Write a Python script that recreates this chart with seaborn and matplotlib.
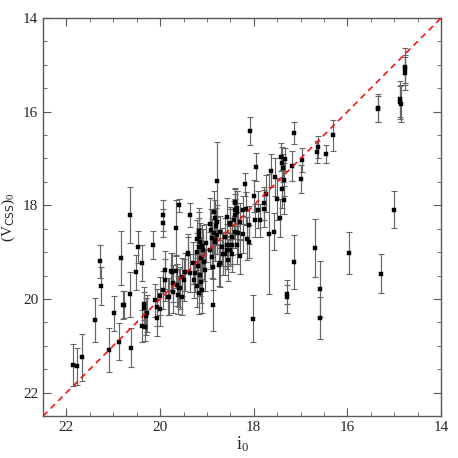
import pandas as pd
import matplotlib
matplotlib.use("Agg")
import matplotlib.pyplot as plt
from matplotlib.ticker import MultipleLocator
import seaborn as sns

# --- data ---
i0 = [21.85, 21.77, 21.67, 21.39, 21.28, 21.27, 21.10, 20.99, 20.88, 20.83,
      20.80, 20.78, 20.64, 20.63, 20.64, 20.51, 20.48, 20.39, 20.16, 19.93,
      19.93, 19.67, 19.60, 19.36, 18.79, 18.08, 17.14, 16.66, 16.62, 16.45,
      16.30, 15.34, 15.34, 14.88, 14.88, 14.85, 14.77, 14.77, 14.77, 15.00,
      15.97, 15.29, 16.69, 16.58, 16.58, 17.14, 17.28, 17.28, 18.02, 17.67,
      17.56, 16.99, 16.98, 17.18, 17.35, 17.36, 17.41, 17.39, 17.37, 17.34,
      17.40, 17.64, 17.54, 17.51, 17.45, 17.78, 17.74, 17.96, 18.00, 18.19,
      18.22, 18.16, 17.91, 18.40, 17.97, 17.79, 17.86, 18.11, 18.41, 18.50,
      18.43, 18.36, 18.47, 18.40, 18.22, 18.15, 18.10, 18.29, 18.35, 18.47,
      18.50, 18.41, 18.40, 18.36, 18.29, 18.33, 18.50, 18.61, 18.58, 18.50,
      18.58, 18.84, 18.82, 18.79, 18.80, 18.84, 18.90, 18.82, 19.17, 19.15,
      19.10, 19.22, 18.72, 18.79, 18.82, 18.68, 18.65, 18.58, 18.54, 18.72,
      18.90, 18.93, 19.02, 19.09, 19.04, 19.07, 19.13, 19.13, 19.11, 19.18,
      19.22, 19.16, 19.18, 19.22, 19.29, 19.25, 19.47, 19.40, 19.54, 19.54,
      19.50, 19.60, 19.61, 19.64, 19.72, 19.73, 19.75, 19.80, 19.89, 19.93,
      20.00, 20.11, 20.06, 20.00, 20.07, 20.34, 20.34, 20.28, 20.31, 20.39,
      20.32, 19.89, 19.76, 19.66, 19.84, 19.57, 19.40, 19.27, 18.86, 19.36,
      19.20, 18.92, 19.18, 18.93, 19.15, 18.86, 18.75, 18.47, 18.61]
vcss0 = [21.41, 21.44, 21.25, 20.45, 19.20, 19.72, 21.09, 20.31, 20.91, 19.13,
         20.13, 20.12, 19.90, 21.04, 18.21, 19.43, 18.89, 19.23, 18.84, 18.21,
         18.37, 18.49, 18.00, 18.21, 17.48, 16.41, 16.46, 16.86, 16.76, 16.91,
         16.50, 15.92, 15.95, 15.73, 15.80, 15.83, 15.04, 15.09, 15.18, 18.09,
         19.02, 19.46, 18.92, 19.78, 20.40, 19.21, 19.95, 19.90, 20.42, 18.62,
         18.56, 17.43, 17.03, 17.16, 17.45, 17.89, 16.96, 17.10, 17.20, 17.02,
         17.65, 17.26, 17.40, 17.87, 18.27, 17.96, 17.75, 17.19, 17.80, 17.55,
         18.10, 18.07, 18.09, 17.93, 18.32, 18.07, 18.32, 18.42, 18.10, 18.37,
         18.31, 18.14, 18.67, 18.57, 18.62, 18.71, 18.78, 19.09, 18.85, 18.85,
         18.95, 17.96, 18.21, 18.05, 18.35, 18.60, 18.85, 18.67, 18.85, 18.39,
         18.25, 18.14, 18.28, 18.35, 18.45, 18.60, 18.70, 18.78, 18.60, 18.78,
         18.88, 18.72, 18.57, 18.64, 18.74, 18.89, 19.03, 18.96, 19.17, 19.24,
         19.10, 18.96, 18.81, 18.96, 19.38, 19.21, 19.13, 19.63, 19.81, 19.88,
         19.73, 18.89, 18.67, 18.99, 19.24, 19.45, 19.42, 19.03, 19.95, 19.53,
         19.60, 19.77, 19.92, 19.70, 19.67, 19.85, 19.42, 19.95, 19.60, 19.81,
         19.94, 20.03, 20.18, 20.22, 20.40, 20.10, 20.20, 20.31, 20.37, 20.58,
         20.60, 19.38, 19.41, 19.41, 19.95, 19.77, 19.02, 19.59, 20.13, 19.45,
         19.30, 18.52, 18.55, 18.40, 19.49, 19.31, 19.28, 19.03, 19.03]
vcss0_err = [0.45, 0.40, 0.50, 0.47, 0.35, 0.40, 0.48, 0.37, 0.40, 0.58,
             0.30, 0.28, 0.48, 0.42, 0.60, 0.37, 0.34, 0.39, 0.30, 0.33,
             0.30, 0.60, 0.14, 0.25, 0.83, 0.30, 0.23, 0.23, 0.24, 0.19,
             0.33, 0.30, 0.28, 0.38, 0.35, 0.40, 0.40, 0.30, 0.35, 0.39,
             0.45, 0.42, 0.62, 0.60, 0.45, 0.57, 0.35, 0.20, 0.50, 1.28,
             0.40, 0.30, 0.25, 0.32, 0.35, 0.30, 0.30, 0.35, 0.30, 0.25,
             0.40, 0.35, 0.40, 0.45, 0.40, 0.35, 0.40, 0.30, 0.35, 0.25,
             0.30, 0.35, 0.40, 0.30, 0.35, 0.40, 0.35, 0.40, 0.35, 0.30,
             0.40, 0.45, 0.40, 0.35, 0.40, 0.45, 0.35, 0.37, 0.40, 0.40,
             0.35, 0.30, 0.35, 0.35, 0.40, 0.45, 0.40, 0.40, 0.45, 0.35,
             0.40, 0.45, 0.40, 0.35, 0.40, 0.45, 0.40, 0.40, 0.45, 0.40,
             0.45, 0.40, 0.35, 0.40, 0.45, 0.40, 0.45, 0.40, 0.45, 0.50,
             0.45, 0.40, 0.40, 0.45, 0.45, 0.40, 0.45, 0.45, 0.50, 0.45,
             0.45, 0.40, 0.40, 0.40, 0.45, 0.40, 0.40, 0.35, 0.40, 0.40,
             0.45, 0.40, 0.40, 0.45, 0.40, 0.45, 0.40, 0.40, 0.45, 0.40,
             0.40, 0.35, 0.40, 0.35, 0.40, 0.35, 0.35, 0.40, 0.40, 0.35,
             0.30, 0.40, 0.40, 0.35, 0.40, 0.45, 0.40, 0.40, 0.55, 0.40,
             0.45, 0.45, 0.50, 0.55, 0.45, 0.50, 0.45, 0.40, 0.45]

df = pd.DataFrame({"i0": i0, "vcss0": vcss0, "err": vcss0_err})

# --- plot ---
sns.set_style("ticks")
plt.rcParams["font.family"] = ["Liberation Serif", "DejaVu Serif"]
plt.rcParams["mathtext.fontset"] = "custom"
plt.rcParams["mathtext.rm"] = "Liberation Serif"
plt.rcParams["mathtext.it"] = "Liberation Serif:italic"
plt.rcParams["mathtext.sf"] = "DejaVu Sans"

fig = plt.figure(figsize=(4.58, 4.58), dpi=100)
ax = fig.add_axes([0.094, 0.0917, 0.869, 0.869])

ax.errorbar(df["i0"], df["vcss0"], yerr=df["err"], fmt="none",
            ecolor="0.4", elinewidth=0.85, capsize=2.2, capthick=0.8, zorder=2)
sns.scatterplot(data=df, x="i0", y="vcss0", ax=ax, marker="s", s=10,
                color="black", edgecolor="black", linewidth=0.3, zorder=3)

# one-to-one line
lims = [22.5, 14]
ax.plot(lims, lims, color="red", linestyle=(0, (4, 3)), linewidth=1.1, zorder=4)

ax.set_xlim(22.5, 14)
ax.set_ylim(22.5, 14)
ax.xaxis.set_major_locator(MultipleLocator(2))
ax.xaxis.set_minor_locator(MultipleLocator(0.5))
ax.yaxis.set_major_locator(MultipleLocator(2))
ax.yaxis.set_minor_locator(MultipleLocator(0.5))
ax.tick_params(which="both", direction="in", top=True, right=True,
               color="0.35", labelsize=11)
ax.tick_params(which="major", length=6)
ax.tick_params(which="minor", length=3)
for sp in ax.spines.values():
    sp.set_color("0.35")
    sp.set_linewidth(1.0)

ax.set_xlabel(r"$\mathrm{i}_0$", fontsize=13, labelpad=0)
ax.set_ylabel(r"$(\mathrm{V}_{\mathsf{CSS}})_0$", fontsize=11)
ax.yaxis.set_label_coords(-0.065, 0.5)

fig.savefig("out.png", dpi=100)
